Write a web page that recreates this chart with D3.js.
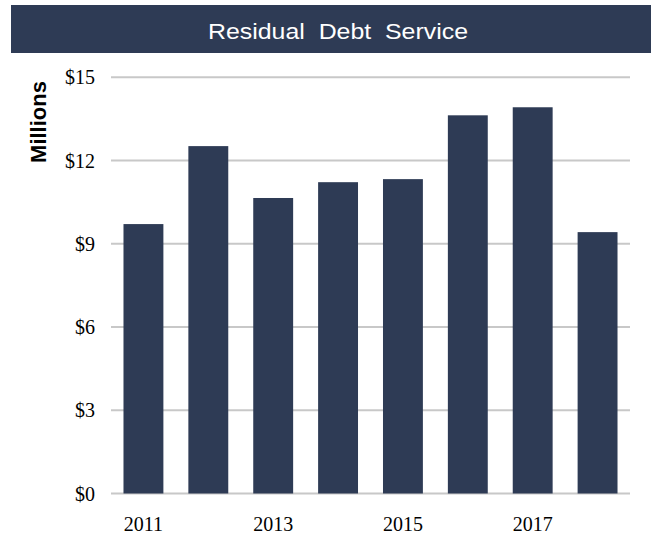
<!DOCTYPE html>
<html>
<head>
<meta charset="utf-8">
<script src="https://d3js.org/d3.v7.min.js"></script>
<style>
  body { margin: 0; background: #fff; }
</style>
</head>
<body>
<svg id="chart" width="651" height="538"></svg>
<script>

// Chart data
var years = ["2011", "2012", "2013", "2014", "2015", "2016", "2017", "2018"];
var debtService = [9.71, 12.52, 10.65, 11.22, 11.33, 13.63, 13.92, 9.42];
var yTicks = [0, 3, 6, 9, 12, 15];
var xTickLabels = ["2011", "2013", "2015", "2017"];

var navy = "#2e3b55";

var svg = d3.select("#chart");

// Title bar across the top
svg.append("rect")
  .attr("x", 11)
  .attr("y", 5)
  .attr("width", 640)
  .attr("height", 48)
  .style("fill", navy);

svg.append("text")
  .attr("x", 338)
  .attr("y", 38.5)
  .attr("text-anchor", "middle")
  .attr("textLength", 260)
  .attr("lengthAdjust", "spacingAndGlyphs")
  .style("font-family", "'Liberation Sans', Arial, sans-serif")
  .style("font-size", "22px")
  .style("fill", "#fff")
  .style("white-space", "pre")
  .text("Residual  Debt  Service");

// Scales
var x = d3.scaleBand()
  .domain(years)
  .range([111, 630])
  .paddingInner(0.385)
  .paddingOuter(0.1925);

var y = d3.scaleLinear()
  .domain([0, 15])
  .range([493.5, 77.3]);

// Gridlines
svg.append("g")
  .selectAll("line")
  .data(yTicks)
  .enter().append("line")
  .attr("x1", 111)
  .attr("x2", 630)
  .attr("y1", function(d) { return y(d); })
  .attr("y2", function(d) { return y(d); })
  .style("stroke", "#c8c8c8")
  .style("stroke-width", 2);

// Bars
svg.append("g")
  .selectAll("rect")
  .data(debtService)
  .enter().append("rect")
  .attr("x", function(d, i) { return x(years[i]); })
  .attr("y", function(d) { return y(d); })
  .attr("width", x.bandwidth())
  .attr("height", function(d) { return y(0) - y(d); })
  .style("fill", navy);

// Y axis tick labels
svg.append("g")
  .selectAll("text")
  .data(yTicks)
  .enter().append("text")
  .attr("x", 95)
  .attr("y", function(d) { return y(d) + 7; })
  .attr("text-anchor", "end")
  .style("font-family", "'Liberation Serif', 'Times New Roman', serif")
  .style("font-size", "20px")
  .style("fill", "#000")
  .text(function(d) { return "$" + d; });

// X axis tick labels (every other year)
svg.append("g")
  .selectAll("text")
  .data(xTickLabels)
  .enter().append("text")
  .attr("x", function(d) { return x(d) + x.bandwidth() / 2; })
  .attr("y", 531)
  .attr("text-anchor", "middle")
  .style("font-family", "'Liberation Serif', 'Times New Roman', serif")
  .style("font-size", "20px")
  .style("fill", "#000")
  .text(function(d) { return d; });

// Y axis title
svg.append("text")
  .attr("transform", "translate(46,122) rotate(-90)")
  .attr("text-anchor", "middle")
  .style("font-family", "'Liberation Sans', Arial, sans-serif")
  .style("font-size", "22px")
  .style("font-weight", "bold")
  .style("fill", "#000")
  .text("Millions");

</script>
</body>
</html>
